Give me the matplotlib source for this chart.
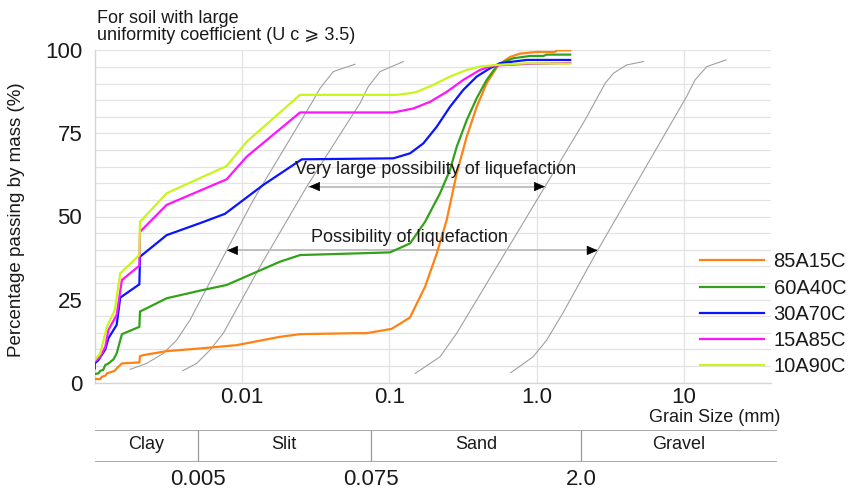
import numpy as np
import matplotlib
matplotlib.use('Agg')
import matplotlib.pyplot as plt
from matplotlib.ticker import MultipleLocator, NullLocator

plt.rcParams['font.family'] = ['Liberation Sans', 'DejaVu Sans']

# Grain size distribution curves (grain size in mm, percent passing)
orange_x = [0.001, 0.00109, 0.00112, 0.00118, 0.00121, 0.00137, 0.00141, 0.00153, 0.00201, 0.00203,
            0.00214, 0.00308, 0.00519, 0.0092, 0.0181, 0.0248, 0.0585, 0.0702, 0.1038, 0.138,
            0.175, 0.210, 0.245, 0.287, 0.335, 0.392, 0.458, 0.550, 0.660, 0.772, 1.00, 1.33, 1.37, 1.69]
orange_y = [1.1, 1.1, 1.8, 2.1, 2.8, 3.6, 4.3, 5.8, 6.1, 8.0,
            8.3, 9.5, 10.3, 11.3, 13.8, 14.6, 14.9, 14.9, 16.2, 19.6,
            28.9, 38.9, 48.9, 63.0, 74.0, 83.0, 90.1, 95.6, 98.0, 99.0, 99.5, 99.5, 100, 100]

green_x = [0.001, 0.00106, 0.00109, 0.00114, 0.00118, 0.00124, 0.00134, 0.00141, 0.00145, 0.00153,
           0.00201, 0.00203, 0.00308, 0.00519, 0.00787, 0.0181, 0.0248, 0.1011, 0.1382, 0.1748,
           0.2210, 0.2582, 0.2869, 0.3354, 0.3920, 0.4584, 0.5495, 0.6946, 0.9019, 1.11, 1.17, 1.69]
green_y = [2.6, 2.8, 3.6, 3.8, 5.3, 5.8, 7.0, 8.8, 10.8, 14.6,
           16.8, 21.4, 25.4, 27.7, 29.4, 36.4, 38.4, 39.2, 41.9, 48.4,
           57.0, 64.0, 71.0, 79.0, 85.6, 91.1, 95.9, 97.6, 98.3, 98.3, 98.7, 98.7]

blue_x = [0.001, 0.001, 0.00106, 0.00118, 0.00124, 0.00141, 0.00149, 0.00201, 0.00203, 0.00308,
          0.00519, 0.00766, 0.01395, 0.02543, 0.1065, 0.1382, 0.1702, 0.2098, 0.2582, 0.318,
          0.392, 0.4826, 0.5643, 0.6946, 0.8568, 1.69]
blue_y = [4.3, 5.8, 6.8, 10.0, 13.4, 17.4, 25.6, 29.6, 37.9, 44.4,
          48.0, 50.8, 59.5, 67.2, 67.5, 69.0, 72.0, 77.0, 83.0, 88.1,
          92.1, 94.6, 96.1, 96.6, 97.1, 97.1]

magenta_x = [0.001, 0.00109, 0.00118, 0.00124, 0.00141, 0.00153, 0.00201, 0.00203, 0.00308, 0.00787,
             0.01076, 0.02477, 0.1065, 0.1182, 0.1455, 0.189, 0.2453, 0.318, 0.4128, 0.5083, 0.8568, 1.69]
magenta_y = [6.3, 7.8, 10.8, 15.9, 20.4, 30.9, 35.2, 45.4, 53.5, 61.2,
             68.0, 81.3, 81.3, 81.7, 82.5, 84.5, 87.5, 91.1, 94.1, 95.4, 95.9, 96.2]

lime_x = [0.001, 0.00109, 0.00121, 0.00137, 0.00149, 0.00201, 0.00203, 0.00308, 0.00787, 0.01076,
          0.02477, 0.1123, 0.1382, 0.1535, 0.199, 0.2582, 0.3354, 0.4128, 0.536, 0.8568, 1.69]
lime_y = [6.8, 8.8, 16.8, 21.9, 32.9, 38.4, 48.4, 57.0, 65.2, 72.5,
          86.6, 86.6, 87.1, 87.5, 89.6, 92.1, 94.1, 95.1, 95.6, 96.1, 96.0]

series_names = ['85A15C', '60A40C', '30A70C', '15A85C', '10A90C']
series_colors = ['#ff8214', '#33a11a', '#0a14ff', '#ff14ff', '#c8f51e']

# liquefaction boundary curves
bound_a_x = [0.00174, 0.00225, 0.00292, 0.00360, 0.00444, 0.00788, 0.01192, 0.0305, 0.0339, 0.0417, 0.0585]
bound_a_y = [4.0, 5.8, 8.8, 12.8, 18.9, 39.9, 54.9, 85.0, 88.6, 93.6, 95.8]
bound_b_x = [0.00396, 0.00492, 0.00606, 0.00747, 0.01324, 0.0275, 0.0633, 0.0720, 0.0865, 0.1245]
bound_b_y = [3.6, 5.8, 9.8, 14.9, 34.9, 59.0, 84.1, 89.1, 93.6, 96.6]
bound_c_x = [0.150, 0.221, 0.287, 1.14, 2.13, 2.92, 3.32, 4.09, 5.30]
bound_c_y = [2.8, 7.8, 14.9, 59.0, 79.0, 90.1, 93.1, 95.6, 96.6]
bound_d_x = [0.667, 0.946, 1.17, 1.51, 2.60, 10.4, 11.9, 14.3, 19.3]
bound_d_y = [3.0, 7.8, 12.8, 21.0, 39.9, 86.0, 91.1, 95.1, 97.1]

# arrows: (left x, right x, y)
very_large_span = (0.0285, 1.14, 59.0)
possible_span = (0.0079, 2.6, 39.8)

# soil classes below the chart
class_bounds = [0.001, 0.005, 0.075, 2.0, 42.9]
class_names = ['Clay', 'Slit', 'Sand', 'Gravel']
class_edge_labels = ['0.005', '0.075', '2.0']

W, H = 856, 491


def fx(px):
    return px / W


def fy(py):
    return 1 - py / H


fig = plt.figure(figsize=(W / 100, H / 100), dpi=100)
ax = fig.add_axes([fx(94.7), fy(382.7), fx(771 - 94.7), (382.7 - 50.3) / H])

for bx, by in [(bound_a_x, bound_a_y), (bound_b_x, bound_b_y),
               (bound_c_x, bound_c_y), (bound_d_x, bound_d_y)]:
    ax.plot(bx, by, color='#a0a0a0', lw=0.8, zorder=2)

for x0, x1, yv in [very_large_span, possible_span]:
    ax.plot([x0, x1], [yv, yv], color='#c0c0c0', lw=1.4, zorder=2)
    for tip, off in [(x0, 7), (x1, -7)]:
        ax.annotate('', xy=(tip, yv), xytext=(off, 0), textcoords='offset points',
                    arrowprops=dict(arrowstyle='-|>,head_length=0.7,head_width=0.3',
                                    color='black', lw=0.5, shrinkA=0, shrinkB=0,
                                    mutation_scale=10), zorder=3)

data = [(orange_x, orange_y), (green_x, green_y), (blue_x, blue_y),
        (magenta_x, magenta_y), (lime_x, lime_y)]
for (sx, sy), name, col in zip(data, series_names, series_colors):
    ax.plot(sx, sy, color=col, lw=1.6, label=name, zorder=4)

ax.set_xscale('log')
ax.set_xlim(0.001, 39)
ax.set_ylim(0, 100)
ax.set_xticks([0.01, 0.1, 1, 10])
ax.set_xticklabels(['0.01', '0.1', '1.0', '10'])
ax.xaxis.set_minor_locator(NullLocator())
ax.set_yticks([0, 25, 50, 75, 100])
ax.yaxis.set_minor_locator(MultipleLocator(5))
ax.tick_params(axis='both', which='both', length=0, labelsize=16, colors='#1a1a1a')
ax.tick_params(axis='x', pad=3)
ax.tick_params(axis='y', pad=9)
ax.grid(True, which='major', color='#e3e3e3', lw=0.9)
ax.grid(True, which='minor', axis='y', color='#e3e3e3', lw=0.9)
ax.set_axisbelow(True)
for side in ['top', 'right']:
    ax.spines[side].set_visible(False)
for side in ['left', 'bottom']:
    ax.spines[side].set_color('#d5d5d5')
    ax.spines[side].set_linewidth(1.0)

ax.text(0.2075, 64.0, 'Very large possibility of liquefaction', fontsize=13,
        ha='center', va='center', color='#1a1a1a', zorder=5)
ax.text(0.138, 43.8, 'Possibility of liquefaction', fontsize=13,
        ha='center', va='center', color='#1a1a1a', zorder=5)

leg = ax.legend(loc='center left', bbox_to_anchor=(fx(700), fy(314.3)),
                bbox_transform=fig.transFigure, frameon=False, fontsize=14.5,
                handlelength=3.2, handletextpad=0.45, labelspacing=0.36,
                borderpad=0, borderaxespad=0)
for t in leg.get_texts():
    t.set_color('#1a1a1a')

fig.text(fx(17), fy(220), 'Percentage passing by mass (%)', rotation=90,
         ha='center', va='center', fontsize=13.5, color='#1a1a1a')
fig.text(fx(97), fy(10), 'For soil with large\nuniformity coefficient (U c \u2a7e 3.5)',
         ha='left', va='top', fontsize=13, linespacing=1.02, color='#1a1a1a')
fig.text(fx(780.7), fy(418), 'Grain Size (mm)', ha='right', va='center',
         fontsize=13, color='#1a1a1a')

# classification band
band = fig.add_axes([fx(94.7), fy(462.3), fx(777 - 94.7), (462.3 - 430) / H])
band.set_xscale('log')
band.set_xlim(class_bounds[0], class_bounds[-1])
band.set_ylim(0, 1)
band.axis('off')
band.axhline(1, color='#ababab', lw=1.5)
band.axhline(0, color='#ababab', lw=1.5)
band.vlines(class_bounds[1:-1], 0, 1, color='#9a9a9a', lw=0.9)
for lo, hi, name in zip(class_bounds[:-1], class_bounds[1:], class_names):
    band.text(np.sqrt(lo * hi), 0.56, name, ha='center', va='center',
              fontsize=13, color='#1a1a1a')
for xb, lab in zip(class_bounds[1:-1], class_edge_labels):
    band.text(xb, -0.52, lab, ha='center', va='center', fontsize=16, color='#1a1a1a')

fig.savefig('out.png', dpi=100)
